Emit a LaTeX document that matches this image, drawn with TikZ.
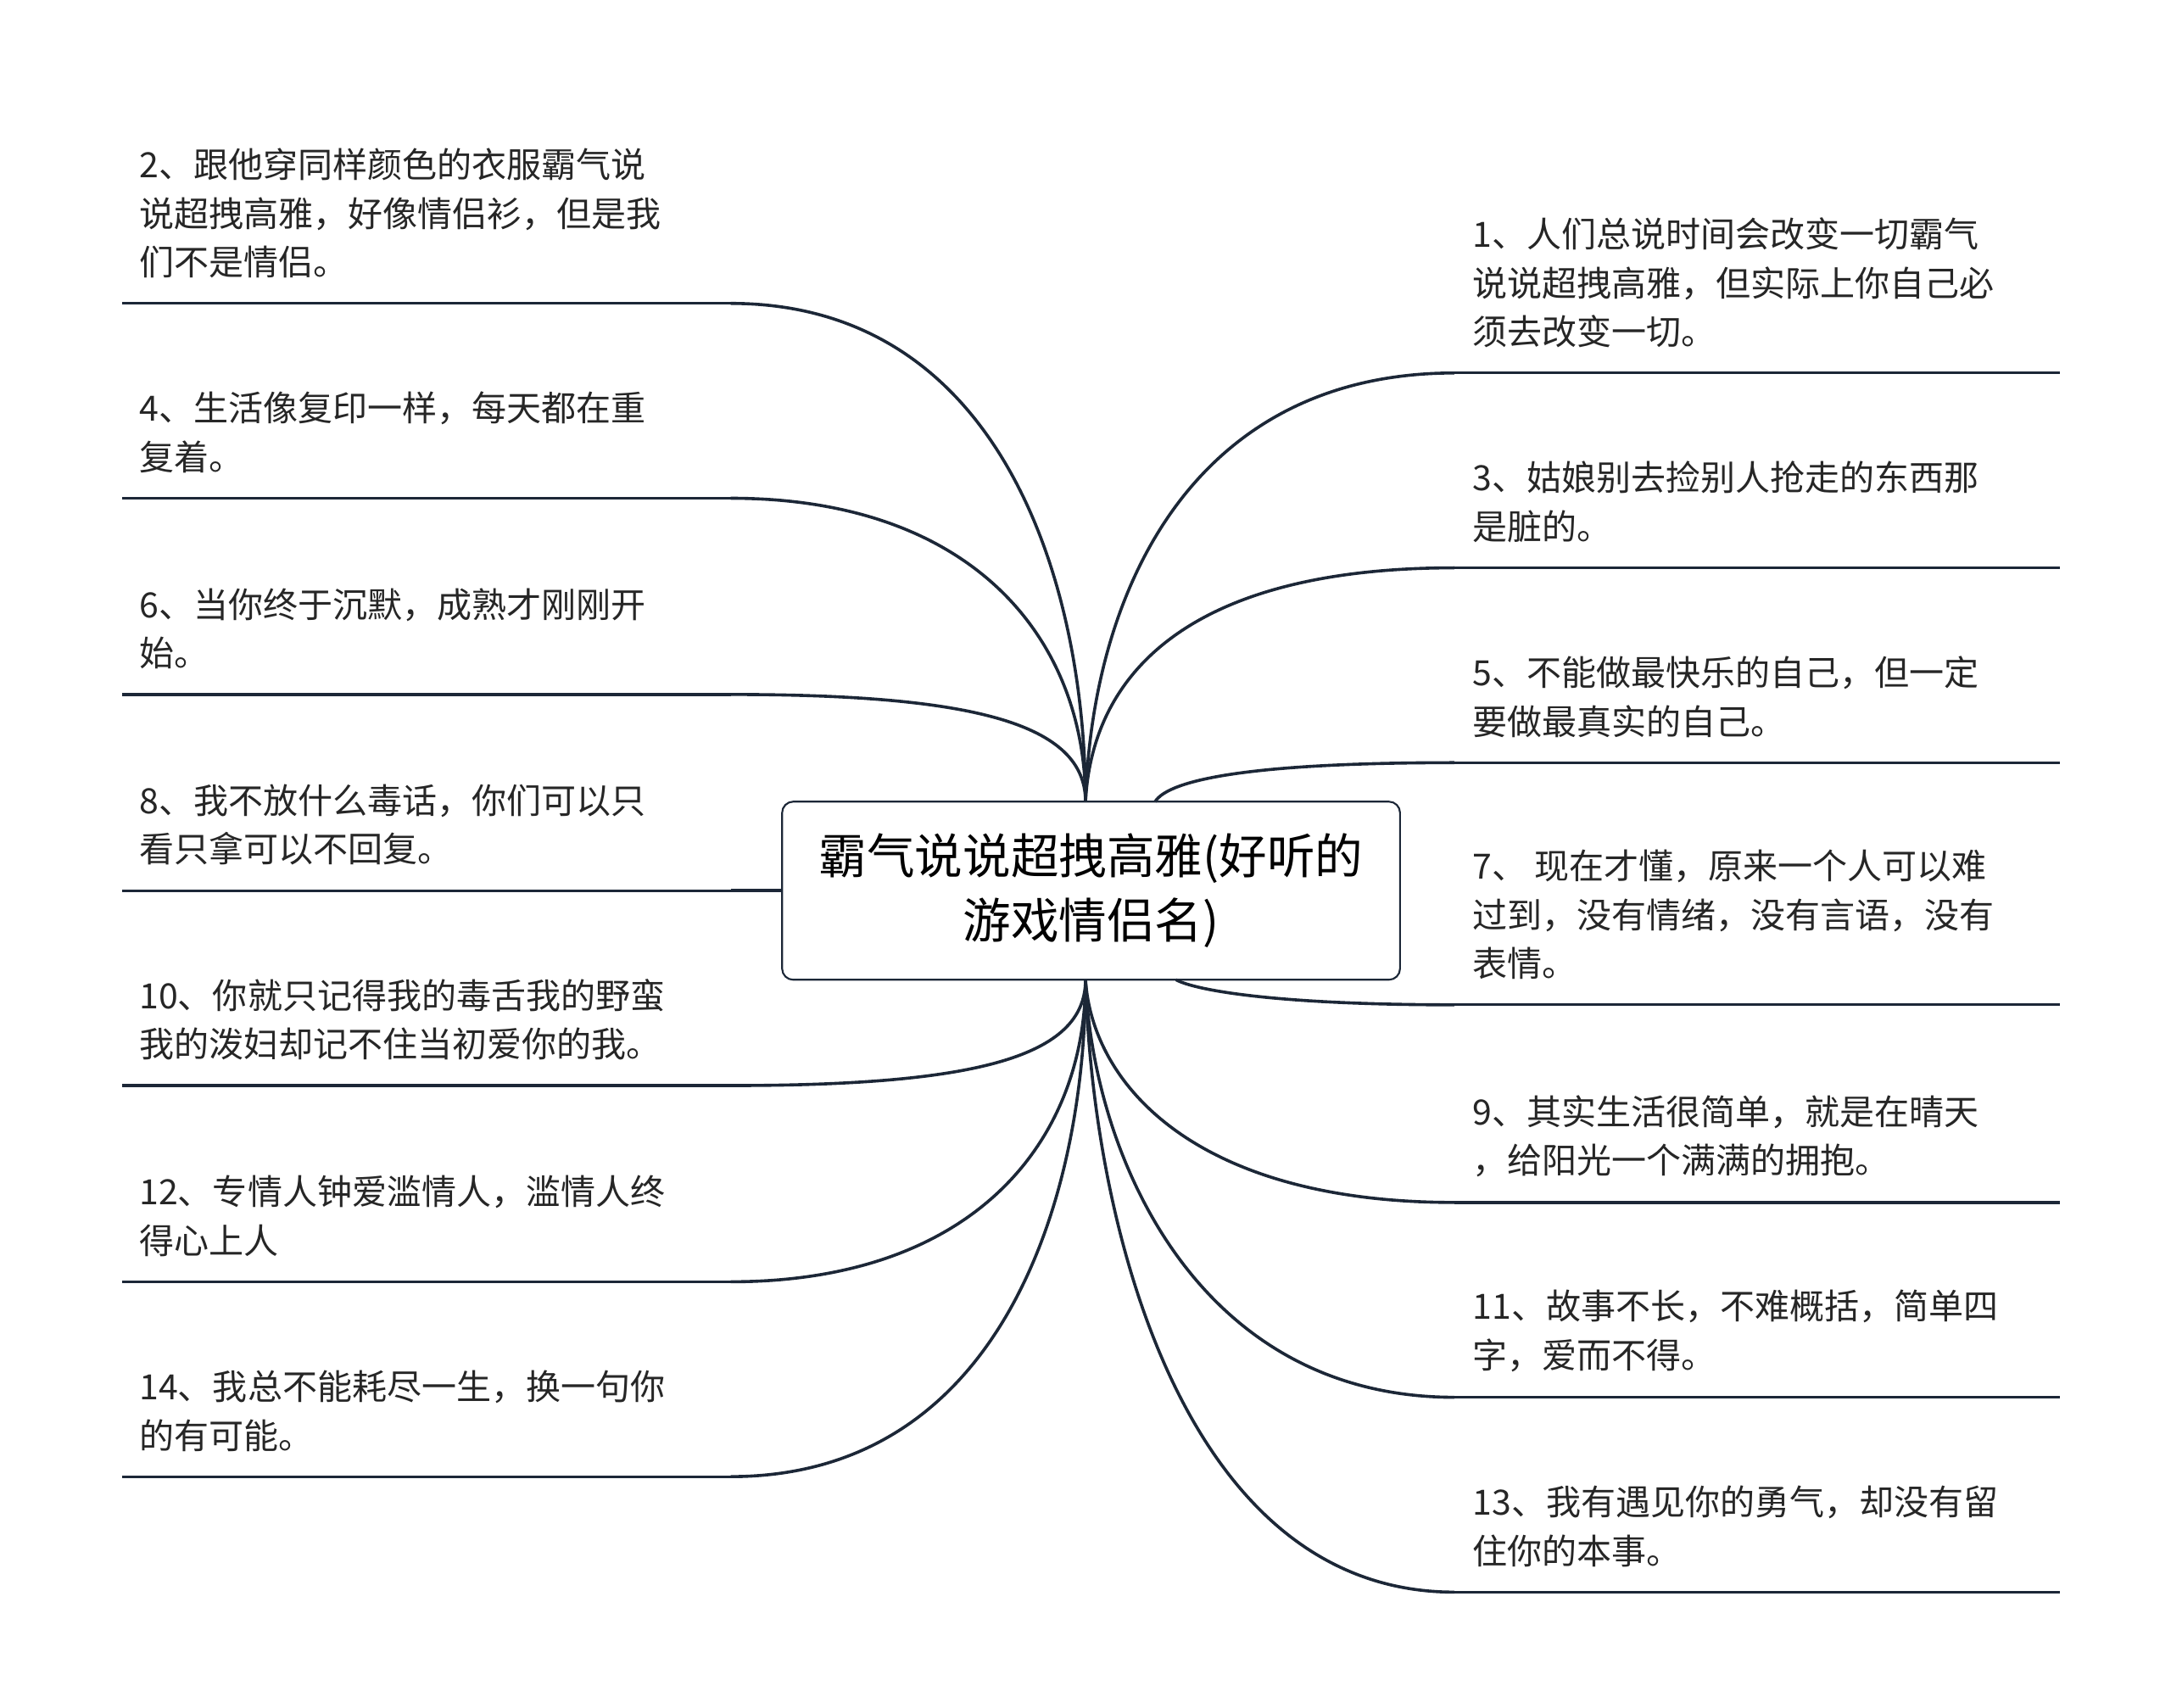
\documentclass[tikz,border=0pt]{standalone}
\usepackage{fontspec}
\setmainfont{Noto Sans CJK SC}
\begin{document}
\begin{tikzpicture}[x=1pt,y=-1pt,
  lnk/.style={draw=navy,line width=2.2pt},
  leaf/.style={anchor=south west,align=left,font=\fontsize{25}{35}\selectfont,inner sep=0pt,text=black!85},
  ul/.style={draw=navy,line width=2pt}]
\definecolor{navy}{HTML}{1C2737}
\useasboundingbox[fill=white] (0,0) rectangle (1560,1227);
\node[draw=navy,line width=1.3pt,rounded corners=8pt,minimum width=444pt,minimum height=128pt,align=center,font=\fontsize{34.5}{46}\selectfont] (c) at (784,640) {霸气说说超拽高雅(好听的\\游戏情侣名)};
\coordinate (ht) at (780,576);
\coordinate (hb) at (780,704);
% left
\foreach \i/\y/\t in {
 1/218/{2、跟他穿同样颜色的衣服霸气说\\说超拽高雅，好像情侣衫，但是我\\们不是情侣。},
 2/358/{4、生活像复印一样，每天都在重\\复着。},
 3/499/{6、当你终于沉默，成熟才刚刚开\\始。},
 4/640/{8、我不放什么毒话，你们可以只\\看只拿可以不回复。},
 5/780/{10、你就只记得我的毒舌我的野蛮\\我的泼妇却记不住当初爱你的我。},
 6/921/{12、专情人钟爱滥情人，滥情人终\\得心上人},
 7/1061/{14、我总不能耗尽一生，换一句你\\的有可能。}}{
 \coordinate (la\i) at (88,\y);
 \coordinate (lb\i) at (525,\y);
 \draw[ul] (la\i) -- (lb\i);
 \node[leaf] (lt\i) at (100,\y-18) {\t};
}
% right
\foreach \i/\y/\t in {
 1/268/{1、人们总说时间会改变一切霸气\\说说超拽高雅，但实际上你自己必\\须去改变一切。},
 2/408/{3、姑娘别去捡别人抢走的东西那\\是脏的。},
 3/548/{5、不能做最快乐的自己，但一定\\要做最真实的自己。},
 4/722/{7、 现在才懂，原来一个人可以难\\过到，没有情绪，没有言语，没有\\表情。},
 5/864/{9、其实生活很简单，就是在晴天\\，给阳光一个满满的拥抱。},
 6/1004/{11、故事不长，不难概括，简单四\\字，爱而不得。},
 7/1144/{13、我有遇见你的勇气，却没有留\\住你的本事。}}{
 \coordinate (ra\i) at (1045,\y);
 \coordinate (rb\i) at (1480,\y);
 \draw[ul] (ra\i) -- (rb\i);
 \node[leaf] (rt\i) at (1058,\y-18) {\t};
}
% connectors left
\draw[lnk] (lb1) .. controls (720,218) and (780,420) .. (ht);
\draw[lnk] (lb2) .. controls (700,358) and (780,460) .. (ht);
\draw[lnk] (lb3) .. controls (700,499) and (780,520) .. (ht);
\draw[lnk] (lb4) -- (c.west);
\draw[lnk] (lb5) .. controls (700,780) and (780,760) .. (hb);
\draw[lnk] (lb6) .. controls (700,921) and (780,820) .. (hb);
\draw[lnk] (lb7) .. controls (720,1061) and (780,860) .. (hb);
% connectors right
\draw[lnk] (ra1) .. controls (860,268) and (785,420) .. (ht);
\draw[lnk] (ra2) .. controls (860,408) and (785,480) .. (ht);
\draw[lnk] (ra3) .. controls (900,548) and (840,560) .. (830,576);
\draw[lnk] (ra4) .. controls (920,722) and (860,712) .. (845,704);
\draw[lnk] (ra5) .. controls (860,864) and (785,780) .. (hb);
\draw[lnk] (ra6) .. controls (860,1004) and (785,830) .. (hb);
\draw[lnk] (ra7) .. controls (850,1144) and (785,880) .. (hb);
\end{tikzpicture}
\end{document}
